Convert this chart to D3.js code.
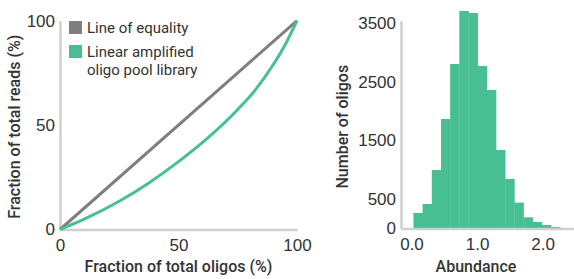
<!DOCTYPE html>
<html>
<head>
<meta charset="utf-8">
<script src="https://cdn.jsdelivr.net/npm/d3@7"></script>
<style>
  body { margin: 0; background: #fff; }
  svg { font-family: Roboto, "Noto Sans", sans-serif; }
  .axis path.domain { stroke: #cfcfcf; stroke-width: 2.5; }
  .axis text { font-size: 17px; fill: #333; }
  .title { font-size: 16px; font-weight: 500; fill: #333; text-anchor: middle; }
  .legend { font-size: 15px; fill: #333; }
</style>
</head>
<body>
<svg width="574" height="279"></svg>
<script>
// Lorenz curve (percent of oligos vs percent of reads)
const lorenzX = [0, 10, 25, 37.5, 50, 62.5, 75, 82.5, 90, 95, 100];
const lorenzY = [0, 4.8, 13.5, 22.3, 32.5, 44, 57.5, 67, 79, 88.5, 100];
const equalityX = [0, 100];
const equalityY = [0, 100];
const lorenzTicks = [0, 50, 100];

// Histogram of abundance
const binStart = [0.03, 0.17, 0.31, 0.45, 0.59, 0.73, 0.87, 1.01, 1.15, 1.29, 1.43, 1.57, 1.71, 1.85, 1.99, 2.13];
const binEnd = [0.17, 0.31, 0.45, 0.59, 0.73, 0.87, 1.01, 1.15, 1.29, 1.43, 1.57, 1.71, 1.85, 1.99, 2.13, 2.27];
const binCount = [264, 417, 995, 1863, 2799, 3701, 3667, 2765, 2357, 1336, 842, 440, 190, 111, 60, 26];
const histYTicks = [0, 500, 1500, 2500, 3500];
const histXTicks = [0, 1, 2];

const GRAY = "#7f7f7f";
const GREEN = "#47bf93";

var svg = d3.select("svg");

// ---- left panel ----
var g1 = svg.append("g");
var xL = d3.scaleLinear().domain([0, 100]).range([60, 297]);
var yL = d3.scaleLinear().domain([0, 100]).range([229.5, 20.7]);

g1.append("g")
  .attr("class", "axis")
  .attr("transform", `translate(0, ${yL(0)})`)
  .call(d3.axisBottom(xL).tickValues(lorenzTicks).tickSize(0).tickPadding(9));

g1.append("g")
  .attr("class", "axis")
  .attr("transform", `translate(${xL(0)}, 0)`)
  .call(d3.axisLeft(yL).tickValues(lorenzTicks).tickSize(0).tickPadding(5));

var line = d3.line()
  .x(d => xL(d[0]))
  .y(d => yL(d[1]))
  .curve(d3.curveMonotoneX);

g1.append("path")
  .datum(equalityX.map((v, i) => [v, equalityY[i]]))
  .attr("fill", "none")
  .attr("stroke", GRAY)
  .attr("stroke-width", 3)
  .attr("d", line);

g1.append("path")
  .datum(lorenzX.map((v, i) => [v, lorenzY[i]]))
  .attr("fill", "none")
  .attr("stroke", GREEN)
  .attr("stroke-width", 3)
  .attr("d", line);

// legend
var legend = [
  { color: GRAY, lines: ["Line of equality"] },
  { color: GREEN, lines: ["Linear amplified", "oligo pool library"] }
];
var ly = [21, 45];
legend.forEach((item, i) => {
  g1.append("rect")
    .attr("x", 69).attr("y", ly[i])
    .attr("width", 13).attr("height", 13)
    .attr("fill", item.color);
  item.lines.forEach((t, j) => {
    g1.append("text")
      .attr("class", "legend")
      .attr("x", 87)
      .attr("y", ly[i] + 12.3 + j * 17.5)
      .text(t);
  });
});

g1.append("text")
  .attr("class", "title")
  .attr("x", 178.5)
  .attr("y", 272)
  .text("Fraction of total oligos (%)");

g1.append("text")
  .attr("class", "title")
  .attr("transform", "rotate(-90)")
  .attr("x", -126.7)
  .attr("y", 19.5)
  .text("Fraction of total reads (%)");

// ---- right panel ----
var g2 = svg.append("g");
var xR = d3.scaleLinear().domain([-0.16, 2.48]).range([401, 574]);
var yR = d3.scaleLinear().domain([0, 3535]).range([228.5, 20.74]);

g2.selectAll(".bar")
  .data(binCount)
  .enter()
  .append("rect")
  .attr("class", "bar")
  .attr("x", (d, i) => xR(binStart[i]))
  .attr("width", (d, i) => xR(binEnd[i]) - xR(binStart[i]) + 0.3)
  .attr("y", d => yR(d))
  .attr("height", d => yR(0) - yR(d))
  .attr("fill", GREEN);

g2.append("g")
  .attr("class", "axis")
  .attr("transform", `translate(0, ${yR(0)})`)
  .call(d3.axisBottom(xR).tickValues(histXTicks).tickFormat(d3.format(".1f")).tickSize(0).tickPadding(9));

g2.append("g")
  .attr("class", "axis")
  .attr("transform", `translate(${xR.range()[0]}, 0)`)
  .call(d3.axisLeft(yR).tickValues(histYTicks).tickFormat(d3.format("d")).tickSize(0).tickPadding(5));

g2.append("text")
  .attr("class", "title")
  .attr("x", 476)
  .attr("y", 271.7)
  .text("Abundance");

g2.append("text")
  .attr("class", "title")
  .attr("transform", "rotate(-90)")
  .attr("x", -126.7)
  .attr("y", 348)
  .text("Number of oligos");
</script>
</body>
</html>
